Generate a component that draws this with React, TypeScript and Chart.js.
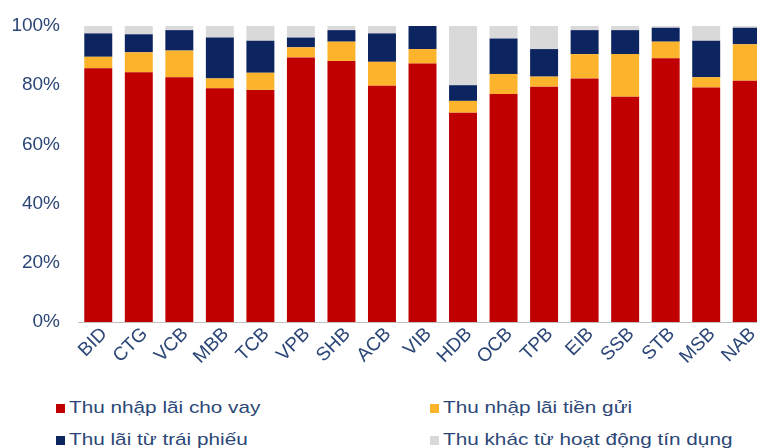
import React, { useEffect, useRef } from "react";
import { Chart, registerables } from "chart.js";

Chart.register(...registerables);

const categories = ["BID", "CTG", "VCB", "MBB", "TCB", "VPB", "SHB", "ACB", "VIB", "HDB", "OCB", "TPB", "EIB", "SSB", "STB", "MSB", "NAB"];
const loanInterest = [85.7, 84.4, 82.7, 79.0, 78.4, 89.4, 88.2, 79.8, 87.3, 70.7, 77.0, 79.5, 82.3, 76.1, 89.1, 79.2, 81.5];
const depositInterest = [3.9, 6.7, 9.0, 3.3, 5.8, 3.4, 6.5, 8.1, 4.9, 4.0, 6.8, 3.4, 8.2, 14.4, 5.6, 3.5, 12.3];
const bondInterest = [7.9, 6.1, 6.9, 13.8, 10.8, 3.3, 3.9, 9.6, 7.8, 5.3, 12.0, 9.3, 8.1, 8.1, 4.7, 12.3, 5.6];
const otherCredit = [2.5, 2.8, 1.4, 3.9, 5.0, 3.9, 1.4, 2.5, 0, 20.0, 4.2, 7.8, 1.4, 1.4, 0.6, 5.0, 0.6];

const seriesNames = ["Thu nhập lãi cho vay", "Thu nhập lãi tiền gửi", "Thu lãi từ trái phiếu", "Thu khác từ hoạt động tín dụng"];
const seriesColors = ["#C00000", "#FDB32B", "#0C2561", "#D9D9D9"];

const TEXT = "#2C4777";
const FONT = "'Liberation Sans', Arial, sans-serif";

export default function App() {
  const ref = useRef<HTMLCanvasElement | null>(null);

  useEffect(() => {
    document.body.style.margin = "0";
    document.body.style.overflow = "hidden";
    const ctx = ref.current!;
    const values = [loanInterest, depositInterest, bondInterest, otherCredit];
    const chart = new Chart(ctx, {
      type: "bar",
      data: {
        labels: categories,
        datasets: values.map((d, i) => ({
          label: seriesNames[i],
          data: d,
          backgroundColor: seriesColors[i],
          borderWidth: 0,
          barPercentage: 0.69,
          categoryPercentage: 1,
        })),
      },
      options: {
        animation: false,
        responsive: false,
        maintainAspectRatio: false,
        layout: { padding: { top: 26, right: 0, left: 0, bottom: 0 } },
        plugins: { legend: { display: false }, tooltip: { enabled: false } },
        scales: {
          x: {
            stacked: true,
            grid: { display: false, drawTicks: false },
            border: { display: true, color: "#BFBFBF", width: 1 },
            ticks: {
              color: TEXT,
              font: { family: FONT, size: 19 },
              minRotation: 45,
              maxRotation: 45,
              padding: 1,
              labelOffset: 6,
              autoSkip: false,
            },
            afterFit: (s: any) => {
              s.height = 70;
              s.paddingLeft = 0;
              s.paddingRight = 0;
            },
          },
          y: {
            stacked: true,
            min: 0,
            max: 100,
            grid: { display: false, drawTicks: false },
            border: { display: false },
            ticks: {
              stepSize: 20,
              color: TEXT,
              font: { family: FONT, size: 19 },
              padding: 18,
              callback: (v: any) => v + "%",
            },
            afterFit: (s: any) => {
              s.width = 78;
              s.paddingTop = 0;
              s.paddingBottom = 0;
            },
          },
        },
      },
    });
    return () => chart.destroy();
  }, []);

  const legendItem = (i: number, left: number, top: number) => (
    <div
      key={i}
      style={{
        position: "absolute",
        left,
        top,
        display: "flex",
        alignItems: "baseline",
        whiteSpace: "nowrap",
        fontFamily: FONT,
        fontSize: 17,
        color: TEXT,
        lineHeight: "20px",
      }}
    >
      <span style={{ display: "inline-block", width: 9, height: 9, background: seriesColors[i], marginRight: 4 }} />
      <span style={{ display: "inline-block", transform: "scaleX(1.22)", transformOrigin: "left center" }}>{seriesNames[i]}</span>
    </div>
  );

  return (
    <div style={{ position: "fixed", left: 0, top: 0, width: 767, height: 448, overflow: "hidden", background: "#fff" }}>
      <canvas ref={ref} width={767} height={392} style={{ position: "absolute", left: 0, top: 0, width: 767, height: 392 }} />
      {legendItem(0, 56, 398)}
      {legendItem(1, 430, 398)}
      {legendItem(2, 56, 430)}
      {legendItem(3, 430, 430)}
    </div>
  );
}
